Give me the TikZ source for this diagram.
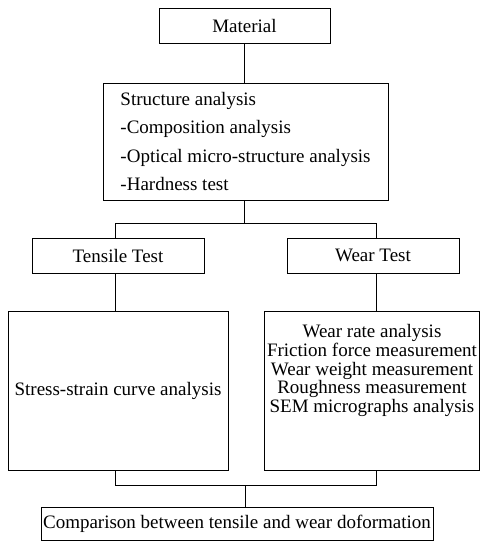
\documentclass[tikz,border=0pt]{standalone}
\usepackage{fontspec}
\setmainfont{Liberation Serif}
\begin{document}
\begin{tikzpicture}[x=1pt,y=-1pt,
  box/.style={draw, line width=0.8pt, inner sep=0pt, align=center, font=\fontsize{19}{18.6}\selectfont},
  txt/.style={inner sep=0pt, align=center, font=\fontsize{19}{18.6}\selectfont},
  conn/.style={line width=0.8pt}]
\useasboundingbox (0,0) rectangle (481,542);
\node[box, minimum width=171pt, minimum height=35pt] (mat) at (244.5,25.5) {Material};
\node[box, minimum width=285pt, minimum height=117pt, align=left, font=\fontsize{19}{28.3}\selectfont] (struct) at (245.5,141.5)
  {Structure analysis\\ -Composition analysis\\ -Optical micro-structure analysis\\ -Hardness test};
\node[box, minimum width=172pt, minimum height=35pt] (tensile) at (118,255.5) {Tensile Test};
\node[box, minimum width=172pt, minimum height=35pt] (wear) at (373,255.5) {Wear Test};
\node[box, minimum width=220pt, minimum height=159pt] (stress) at (118,390.5) {Stress-strain curve analysis};
\node[box, minimum width=215pt, minimum height=159pt] (wearlist) at (372,390.5) {};
\node[txt] (wearlisttext) at ([yshift=20pt]wearlist.center)
  {Wear rate analysis\\ Friction force measurement\\ Wear weight measurement\\ Roughness measurement\\ SEM micrographs analysis};
\node[box, minimum width=392pt, minimum height=33pt] (comp) at (237,523.5) {Comparison between tensile and wear doformation};
\coordinate (c1) at (244,0);
\coordinate (jT) at (244,223);
\coordinate (jL) at (115,223);
\coordinate (jR) at (376,223);
\coordinate (kL) at (115,485);
\coordinate (kR) at (376,485);
\coordinate (kM) at (245,485);
\draw[conn] (mat.south -| c1) -- (struct.north -| c1);
\draw[conn] (struct.south -| jT) -- (jT);
\draw[conn] (tensile.north -| jL) -- (jL) -- (jR) -- (wear.north -| jR);
\draw[conn] (tensile.south -| jL) -- (stress.north -| jL);
\draw[conn] (wear.south -| jR) -- (wearlist.north -| jR);
\draw[conn] (stress.south -| kL) -- (kL) -- (kR) -- (wearlist.south -| kR);
\draw[conn] (kM) -- (comp.north -| kM);
\end{tikzpicture}
\end{document}
